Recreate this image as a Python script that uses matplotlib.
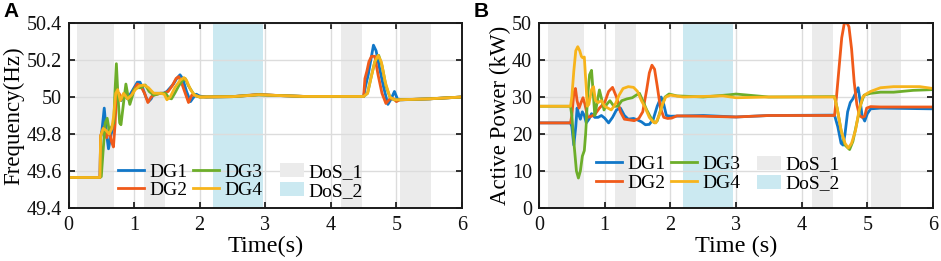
import matplotlib
matplotlib.use("Agg")
import matplotlib.pyplot as plt
from matplotlib.patches import Patch
from matplotlib.lines import Line2D

plt.rcParams['font.family'] = ['Liberation Serif', 'DejaVu Serif']
plt.rcParams['mathtext.fontset'] = 'stix'

# ---------------- data ----------------
series_names = ['DG1', 'DG2', 'DG3', 'DG4']
colors = ['#1177C8', '#F05A1A', '#6DAE2A', '#F7B41C']

dos1_windows = [(0.13, 0.69), (1.15, 1.47), (4.15, 4.47), (5.05, 5.52)]
dos2_windows = [(2.20, 2.96)]

freq_DG1 = [(0, 49.565), (0.48, 49.565), (0.49, 49.78), (0.51, 49.82), (0.545, 49.94), (0.58, 49.80),
            (0.61, 49.72), (0.65, 49.80), (0.69, 49.84), (0.72, 49.98), (0.75, 50.02), (0.8, 49.98),
            (0.85, 50.01), (0.9, 49.99), (0.95, 50.02), (1.0, 50.05), (1.05, 50.08), (1.09, 50.08),
            (1.13, 50.05), (1.18, 50.0), (1.22, 49.975), (1.26, 49.99), (1.3, 50.02), (1.4, 50.02),
            (1.45, 50.02), (1.5, 50.03), (1.55, 50.05), (1.6, 50.07), (1.65, 50.10), (1.70, 50.12),
            (1.74, 50.10), (1.8, 50.03), (1.86, 49.975), (1.9, 49.995), (1.95, 50.015), (2.0, 50.005),
            (2.1, 50.0), (2.5, 50.002), (2.9, 50.012), (3.2, 50.008), (3.6, 50.003), (4.0, 50.003),
            (4.5, 50.003), (4.53, 50.06), (4.57, 50.12), (4.61, 50.2), (4.65, 50.28), (4.69, 50.25),
            (4.74, 50.16), (4.8, 50.06), (4.87, 49.96), (4.92, 49.99), (4.97, 50.03), (5.02, 49.985),
            (5.1, 49.985), (5.5, 49.99), (6.0, 50.0)]
freq_DG2 = [(0, 49.565), (0.48, 49.565), (0.49, 49.79), (0.52, 49.82), (0.55, 49.84), (0.58, 49.78),
            (0.62, 49.82), (0.655, 49.76), (0.685, 49.73), (0.71, 49.85), (0.73, 50.0), (0.77, 50.02),
            (0.82, 49.99), (0.88, 50.02), (0.94, 49.99), (1.0, 50.04), (1.05, 50.07), (1.1, 50.06),
            (1.16, 50.02), (1.21, 49.97), (1.26, 50.0), (1.3, 50.01), (1.4, 50.02), (1.46, 50.02),
            (1.52, 50.03), (1.58, 50.06), (1.64, 50.1), (1.68, 50.11), (1.72, 50.08), (1.78, 50.02),
            (1.83, 49.97), (1.88, 50.01), (1.93, 50.01), (2.0, 50.0), (2.5, 50.002), (2.9, 50.014),
            (3.2, 50.008), (3.6, 50.003), (4.5, 50.003), (4.52, 50.1), (4.55, 50.14), (4.58, 50.19),
            (4.62, 50.22), (4.67, 50.22), (4.72, 50.12), (4.78, 50.02), (4.84, 49.965), (4.9, 49.99),
            (4.96, 49.99), (5.0, 49.975), (5.05, 49.985), (5.5, 49.99), (6.0, 50.0)]
freq_DG3 = [(0, 49.565), (0.48, 49.565), (0.5, 49.57), (0.53, 49.72), (0.56, 49.86), (0.59, 49.885),
            (0.62, 49.82), (0.66, 49.84), (0.69, 49.86), (0.705, 50.0), (0.73, 50.18), (0.755, 50.0),
            (0.78, 49.86), (0.80, 49.85), (0.84, 49.97), (0.875, 50.07), (0.905, 50.01), (0.935, 49.96),
            (0.97, 50.0), (1.0, 50.04), (1.05, 50.05), (1.1, 50.05), (1.17, 50.065), (1.23, 50.03),
            (1.3, 50.01), (1.4, 50.02), (1.48, 50.02), (1.53, 49.995), (1.57, 49.99), (1.62, 50.02),
            (1.68, 50.06), (1.74, 50.09), (1.78, 50.10), (1.83, 50.06), (1.9, 50.02), (1.95, 50.005),
            (2.0, 50.0), (2.5, 50.002), (2.9, 50.012), (3.2, 50.008), (3.6, 50.003), (4.5, 50.003),
            (4.56, 50.02), (4.61, 50.1), (4.67, 50.19), (4.73, 50.225), (4.78, 50.17), (4.84, 50.06),
            (4.9, 50.0), (4.96, 49.985), (5.05, 49.985), (5.5, 49.99), (6.0, 50.0)]
freq_DG4 = [(0, 49.565), (0.48, 49.565), (0.49, 49.79), (0.53, 49.83), (0.57, 49.82), (0.62, 49.80),
            (0.66, 49.83), (0.69, 49.90), (0.72, 50.02), (0.75, 50.04), (0.79, 49.98), (0.84, 50.02),
            (0.9, 49.99), (0.96, 50.01), (1.02, 50.04), (1.08, 50.06), (1.15, 50.065), (1.22, 50.05),
            (1.3, 50.02), (1.4, 50.02), (1.46, 50.015), (1.5, 49.985), (1.55, 50.0), (1.62, 50.05),
            (1.7, 50.09), (1.76, 50.105), (1.8, 50.09), (1.86, 50.04), (1.92, 50.01), (2.0, 50.0),
            (2.5, 50.002), (2.9, 50.012), (3.2, 50.008), (3.6, 50.003), (4.5, 50.003), (4.56, 50.02),
            (4.61, 50.1), (4.67, 50.19), (4.72, 50.225), (4.77, 50.19), (4.83, 50.08), (4.9, 50.0),
            (4.97, 49.985), (5.05, 49.985), (5.5, 49.99), (6.0, 50.0)]

power_DG1 = [(0, 23), (0.48, 23), (0.5, 22), (0.53, 17), (0.56, 22), (0.58, 27), (0.61, 25), (0.63, 24),
             (0.66, 26), (0.69, 25), (0.72, 23), (0.76, 24), (0.8, 25.5), (0.85, 24.5), (0.9, 24.5),
             (0.95, 25), (1.0, 24.3), (1.06, 23), (1.12, 24.5), (1.18, 26.5), (1.24, 27), (1.3, 25),
             (1.36, 24), (1.44, 24.2), (1.5, 23.8), (1.56, 23.3), (1.62, 22.5), (1.68, 22.6), (1.74, 24),
             (1.8, 27.5), (1.86, 30), (1.9, 28), (1.94, 25), (2.0, 24.8), (2.5, 25), (3.0, 24.6),
             (3.5, 25), (4.5, 25.1), (4.55, 22), (4.6, 17.5), (4.63, 17), (4.66, 20), (4.7, 26),
             (4.74, 28.5), (4.78, 29.5), (4.82, 31), (4.86, 32.5), (4.89, 29), (4.92, 25), (4.96, 23.5),
             (5.0, 25.5), (5.05, 26.8), (5.2, 27), (6.0, 26.8)]
power_DG2 = [(0, 23), (0.48, 23), (0.5, 25), (0.53, 31), (0.555, 32.3), (0.58, 29), (0.61, 27),
             (0.64, 28.5), (0.67, 29.8), (0.7, 28), (0.74, 24.5), (0.8, 24.8), (0.86, 25.5), (0.92, 27),
             (1.0, 28.5), (1.06, 31.5), (1.12, 32.6), (1.18, 30), (1.24, 26), (1.3, 24), (1.38, 23.8),
             (1.45, 23.6), (1.52, 24.2), (1.58, 26), (1.64, 32), (1.68, 36.5), (1.72, 38.6), (1.76, 37.5),
             (1.8, 33), (1.85, 27), (1.9, 24.5), (1.96, 24.2), (2.02, 24.3), (2.1, 24.9), (2.5, 24.8),
             (3.0, 24.6), (3.5, 25), (4.5, 25), (4.53, 30), (4.57, 38), (4.61, 46), (4.65, 50),
             (4.69, 50), (4.72, 49), (4.76, 43), (4.8, 34), (4.84, 28), (4.88, 25), (4.92, 24.5),
             (4.96, 24.8), (4.99, 27), (5.05, 27.4), (5.2, 27.3), (6.0, 27.3)]
power_DG3 = [(0, 27.5), (0.48, 27.5), (0.5, 25), (0.53, 18), (0.57, 10), (0.6, 8.1), (0.63, 10),
             (0.66, 14), (0.69, 15.5), (0.71, 20), (0.74, 30), (0.77, 36), (0.8, 37.2), (0.83, 30),
             (0.85, 25), (0.88, 28), (0.92, 31.9), (0.96, 29), (0.99, 26.5), (1.03, 28), (1.08, 29),
             (1.14, 27.5), (1.2, 27.5), (1.26, 29), (1.34, 29.5), (1.42, 29.8), (1.48, 30.5), (1.53, 31),
             (1.58, 29), (1.64, 26.5), (1.7, 24.5), (1.76, 23), (1.8, 23.5), (1.86, 27), (1.92, 30),
             (1.98, 30.8), (2.1, 30.3), (2.5, 30), (2.9, 30.6), (3.0, 30.8), (3.5, 30), (4.5, 30.1),
             (4.54, 27), (4.6, 21), (4.66, 17), (4.73, 15.8), (4.78, 18), (4.84, 23), (4.9, 28),
             (4.95, 30.5), (5.05, 31), (5.2, 31.3), (5.4, 31.3), (5.7, 31.8), (6.0, 32)]
power_DG4 = [(0, 27.5), (0.48, 27.5), (0.5, 30), (0.53, 37), (0.56, 42.5), (0.59, 43.6), (0.62, 42.5),
             (0.645, 41), (0.665, 40.6), (0.69, 40.8), (0.71, 35), (0.735, 27.5), (0.76, 28), (0.8, 32),
             (0.83, 32.8), (0.86, 29), (0.9, 28.5), (0.95, 29), (1.0, 27.5), (1.05, 27), (1.1, 26.5),
             (1.16, 28), (1.22, 30.5), (1.28, 32.3), (1.36, 32.8), (1.44, 32.6), (1.5, 31.5), (1.56, 29),
             (1.62, 27), (1.68, 24.5), (1.74, 23.2), (1.78, 23), (1.83, 25), (1.88, 28), (1.93, 30),
             (2.0, 30.5), (2.2, 30), (2.8, 30.3), (3.0, 29.8), (3.5, 30), (4.5, 30), (4.54, 27),
             (4.6, 21), (4.66, 17.5), (4.71, 16.2), (4.76, 17.5), (4.82, 21), (4.87, 26), (4.93, 30),
             (4.98, 30.8), (5.05, 31.5), (5.2, 32.5), (5.4, 32.8), (5.8, 32.8), (6.0, 32.3)]

freq_series = [freq_DG1, freq_DG2, freq_DG3, freq_DG4]
power_series = [power_DG1, power_DG2, power_DG3, power_DG4]

x_ticks = [0, 1, 2, 3, 4, 5, 6]
freq_ticks = [49.4, 49.6, 49.8, 50.0, 50.2, 50.4]
freq_ticklabels = ['49.4', '49.6', '49.8', '50', '50.2', '50.4']
power_ticks = [0, 10, 20, 30, 40, 50]

# ---------------- figure ----------------
W, H = 941, 261
fig = plt.figure(figsize=(W / 100, H / 100), dpi=100)

ax_l = fig.add_axes([68.5 / W, 1 - 208 / H, 393.5 / W, 185 / H])
ax_r = fig.add_axes([539 / W, 1 - 208 / H, 394 / W, 185 / H])

GRAY = '#EBEBEB'
CYAN = '#CBE9F1'


def style(ax, series, yticks, ylim, ylabel, xlabel, leg_dg, leg_dos):
    for (a, b) in dos1_windows:
        ax.axvspan(a, b, color=GRAY, lw=0, zorder=0.5)
    for (a, b) in dos2_windows:
        ax.axvspan(a, b, color=CYAN, lw=0, zorder=0.5)
    for s, c in zip(series, colors):
        t = [p[0] for p in s]
        v = [p[1] for p in s]
        ax.plot(t, v, color=c, lw=2.0, solid_joinstyle='round', zorder=2, clip_on=True)
    ax.set_xlim(0, 6)
    ax.set_ylim(*ylim)
    ax.set_xticks(x_ticks)
    ax.set_yticks(yticks)
    ax.grid(True, color='#DCDCDC', lw=1.0)
    ax.tick_params(direction='in', length=4, width=1.2, top=True, right=True,
                   labelsize=14.5, colors='#111111')
    ax.tick_params(axis='x', pad=6)
    ax.tick_params(axis='y', pad=5)
    for sp in ax.spines.values():
        sp.set_linewidth(1.4)
        sp.set_color('#1a1a1a')
    ax.set_xlabel(xlabel, fontsize=17.5, labelpad=0.5)
    ax.set_ylabel(ylabel, fontsize=16.5, labelpad=1)
    dg_handles = [Line2D([0], [0], color=c, lw=2.0) for c in colors]
    l1 = ax.legend(dg_handles, series_names, ncol=2, frameon=False, fontsize=14,
                   loc='upper left', bbox_to_anchor=leg_dg, borderpad=0, borderaxespad=0,
                   handlelength=1.35, handletextpad=0.25, columnspacing=0.3,
                   labelspacing=0.05)
    ax.add_artist(l1)
    dos_handles = [Patch(facecolor=GRAY, edgecolor='none'), Patch(facecolor=CYAN, edgecolor='none')]
    ax.legend(dos_handles, ['DoS_1', 'DoS_2'], ncol=1, frameon=False, fontsize=14,
              loc='upper left', bbox_to_anchor=leg_dos, borderpad=0, borderaxespad=0,
              handlelength=1.25, handleheight=0.75, handletextpad=0.2, labelspacing=0.05)


style(ax_l, freq_series, freq_ticks, (49.4, 50.4), 'Frequency(Hz)', 'Time(s)',
      (0.126, 0.243), (0.537, 0.243))
ax_l.set_yticklabels(freq_ticklabels)
style(ax_r, power_series, power_ticks, (0, 50), 'Active Power (kW)', 'Time (s)',
      (0.145, 0.283), (0.553, 0.283))

fig.text(3 / W, 1 - 2 / H, 'A', fontsize=15, fontweight='bold', family='Liberation Sans',
         va='top', ha='left')
fig.text(474 / W, 1 - 2 / H, 'B', fontsize=15, fontweight='bold', family='Liberation Sans',
         va='top', ha='left')

fig.savefig('out.png', dpi=100)
